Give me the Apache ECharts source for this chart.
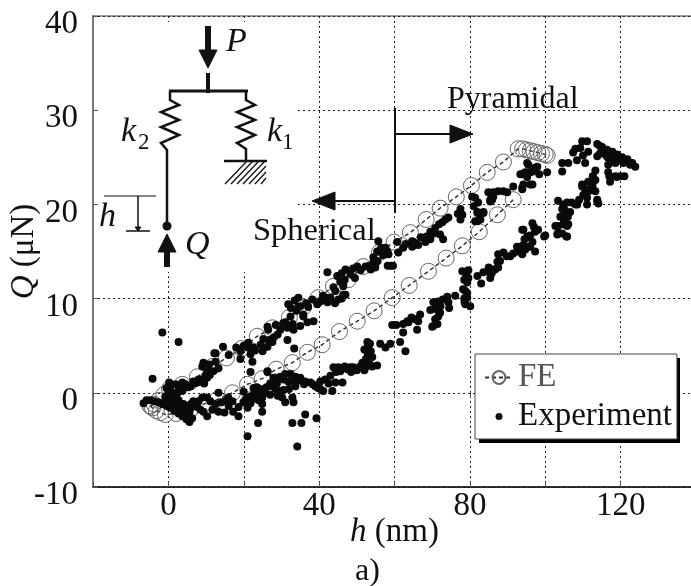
<!DOCTYPE html>
<html>
<head>
<meta charset="utf-8">
<style>html,body{margin:0;padding:0;background:#fff}#c{width:691px;height:586px}</style>
<script src="https://cdn.jsdelivr.net/npm/echarts@6/dist/echarts.min.js"></script>
</head>
<body>
<div id="c"></div>
<script>
const feLoading = [[-4.8,-1.4],[-3.8,-1.2],[-2.6,-0.8],[-1.2,-0.2],[0.3,0.4],[3.7,0.9],[7.7,1.7],[11.7,2.8],[15.4,3.7],[19.4,4.7],[23.6,6],[27.6,6.9],[32.1,8],[35.8,9.1],[39.8,10.1],[43.8,11.3],[47.7,12],[51.7,13.4],[56,14.9],[59.9,16],[64.2,17],[68.4,18.4],[72.1,19.6],[76.4,20.8],[80.4,22],[84.6,23.4],[88.9,24.5],[92.8,25.9],[94,25.9],[95,25.8],[96,25.7],[97,25.6],[98,25.5],[99,25.4],[100,25.3],[100.5,25.2]];
const feUnloading = [[91.5,20.5],[87.3,18.9],[82.5,17.1],[78,15.6],[73.7,14.3],[69,12.9],[63.9,11.4],[59.4,10.1],[54.6,8.7],[50.1,7.6],[45.4,6.5],[40.8,5.1],[36.9,4.3],[32.9,3.2],[28.6,2.5],[24.9,1.5],[21,0.9],[17,0],[13,-0.7],[9.3,-1.2],[5.8,-1.8],[2.1,-2.2],[-0.8,-2.3],[-2.1,-2.1],[-3.2,-1.9],[-4.2,-1.6],[-4.8,-1.4]];
const experiment = [
[-1.6,6.4],[2.7,5.4],[-4.2,1.5],[21,-4.6],[23.8,-3.2],[32.9,-3.2],[35.3,-3.2],[36.3,-2.3],[39.3,-2.7],[34.2,-5.7],
[-6.6,-1.1],[-5.8,-0.8],[-4.8,-0.8],[-3.7,-0.9],[-2.7,-1],[-1.6,-1.2],[-0.5,-1.4],[0.5,-1.6],[1.6,-1.9],[2.7,-2.2],[3.7,-2.5],[4.8,-2.8],[5.6,-3.1],
[-0.8,-0.8],[0.5,-0.9],[1.9,-1.1],[3.2,-1.4],[4.2,-1.9],[5.3,-2.4],[1.1,-0.6],[2.7,-0.8],[4,-1.2],[2.1,-0.3],
[-0.8,-0.4],[1.1,0],[0,0.2],[1.9,0.9],[3.7,1.1],[5.3,0.6],[6.6,1.2],[8,1.4],[9.8,1.8],[9,2.8],[10.3,2.3],[11.9,2.3],[9.3,3.2],[12.2,4.2],[2.4,0],[3.7,0.2],[1.3,-0.5],
[6.6,-0.9],[7.7,-1.5],[9,-0.5],[10.3,-0.5],[9.3,-2],[10.3,-2.5],[11.7,-1.8],[11.1,-0.9],[13.3,0],[13.3,-2],[14.9,-2.1],[15.1,-0.9],[15.9,-0.5],[14.1,-1],[17,-0.9],[17.2,-2],[18.6,-2.5],[18.6,-1.5],[19.9,-1],[21.2,-0.5],[22.5,-0.2],[21.8,-1.1],[24.4,-0.4],[25.2,0],
[24.4,0.4],[25.7,0],[27,-0.2],[28.4,0.4],[29.7,0.2],[30.2,-0.5],[31,-1],[33.2,-1],[32.9,-0.5],[24.9,-0.5],[24.9,-1.2],[24.9,-2],[26.3,2.2],[28.4,1.6],
[30.5,1.4],[31,2],[32.4,2],[33.7,1.7],[35,1.6],[36.3,1.2],[37.7,1.1],[39,0.7],[40.3,0.4],[41.1,0.2],[43.5,0.2],[33.7,0.7],[31.8,1.2],
[40.3,1.2],[41.6,1.4],[43,1.8],[43.8,2.7],[45.1,2.7],[44.3,1.1],[46.2,1.1],[45.6,2.3],[47.5,2.5],[49.1,2.7],[50.9,2.8],[52.3,2.7],[51.5,3.2],[55.4,2.9],[53,3.8],[52.8,4.3],[53,4.9],[52.8,5.4],[54.1,3.8],[56.2,5.2],[57.6,4.8],
[31.6,5.6],[33.4,4.7],[21.8,2.2],[26.3,2.3],[27.9,1.6],[19.1,3.6],[22.3,3.3],[12.5,4.2],
[7.7,1.1],[9,1.4],[10.3,1.6],[19.1,4.4],[21,4.8],[22.5,4.8],[21.2,5.3],[21.8,4.1],[26.3,4.9],[27.6,5.4],[25.2,5.7],[26.5,6.7],[29.7,6.7],[31.6,6.9],[32.4,8.1],[31.8,9.4],[34.5,10.1],[34.5,9.1],[35.8,8.3],[33.2,6.7],[35,7.1],[36.9,7.5],[38.5,7.6],[38.2,9.9],[40.3,9.7],[42.2,10.1],[45.1,9.9],[43.8,11.2],[46.4,11.5],[47,10.4],
[26.3,7],[31,7.5],[35,9.2],[37.1,9.1],[40.8,9.9],[43,10.1],[46.4,10.4],[46.4,11.3],[44.3,10.8],[45.6,11.8],[44.8,12.4],[47,13.1],[48.3,12.6],[50.1,13.4],[52.3,13.4],[42.2,12.8],[54.9,13.6],[55.7,16.1],[55.7,15],[58.1,15],[35.8,8.1],[54.4,14.4],
[55.4,15],[57.6,15.4],[58.4,14.7],[54.4,13.8],[54.9,13.3],[58.2,13.5],[59.6,13.5],[60.7,16],[61,14.9],[62.3,15.4],[64.7,16.1],[64.7,15.5],[66.3,15.7],[68.2,16],[69.5,17.1],[69.5,16.3],[70.8,17.5],[72.7,18.1],[74.3,18.6],[72.1,16.8],[72.9,16.3],[77.5,19.5],[77.5,18.4],[80.6,20.8],[82.2,20.2],[82,19.2],[82,18.2],[83.6,19.2],[84.9,21.3],[85.9,20.5],[87.5,21.4],
[59.4,7.2],[62.3,7.3],[63.4,7.6],[66.8,8.3],[65.5,7.8],[66.3,7.6],[70.3,7.1],[71.6,8.1],[70.3,9.6],[71.6,9.7],[70.8,8.9],[74,10.2],[74.3,9.6],[76.1,10.3],[78.8,9.4],[80.1,9.2],[79.3,10.1],[78.2,11],[79.3,11.7],[79.3,10.6],[78,12.9],[79.6,13],[79.6,12.2],[82,12.4],[83,11.6],[84.9,12.9],[86.7,13.1],[85.4,12.2],[87.3,13.9],[87.5,14.7],
[58.9,5.2],[61.5,5.4],[62.9,4.4],[62.3,6.4],[63.7,7.5],[66,6.7],[70,7],[71.4,7.3],[72.1,8.5],[48.3,2.7],[54.1,2.8],[53,3.9],[53,4.6],
[83.6,12.8],[86.2,13.1],[88.9,14.9],[90.7,14.5],[92.6,15],[93.9,14.7],[94.2,15.7],[96.6,16],[97.3,15],[93.9,17.3],[96.6,18],[98.1,17.3],[95.2,16.6],[100,16.7],
[103.2,16.8],[103.4,17.7],[105.8,17.7],[105.8,16.6],[104,18.7],[105.3,19.2],[106.6,19.2],[103.4,20.4],[104.8,20],[108.5,20],[111.1,20],[113.8,20.3],[114.1,20.1],[111.1,20.7],[110.6,21.6],[109.8,21.9],[112.5,21.9],[112.7,22.9],[111.4,22.4],
[81.4,20.7],[82,19.1],[83.6,19.1],[81.4,18.2],[85.4,20.5],[86.2,21.3],[88.9,21.4],[91.5,21.9],[93.9,21.8],[96,22.1],[93.9,23.2],[96,23.4],[97.9,24],[95.5,24.2],[98.4,23.2],[100.5,23.4],
[104.5,24.4],[104.5,23.5],[106.1,24.4],[107.4,25.5],[109.8,26.7],[111.1,26.7],[109.3,26],[111.4,25.6],[110.6,24.4],[113.8,25.1],
[113.8,26.4],[115.1,26.1],[116.4,25.8],[117.8,25.6],[119.1,25.3],[120.4,25],[121.8,24.8],[123.1,24.4],[123.9,24],[118,25.1],[119.4,24.8],[120.7,24.4],[115.9,25.3],[116.7,24.2],[118.6,24.4],[116.7,23.4],[117.2,22.4],[118.6,23],[121,23],[119.9,23],
[113.3,23.6],[113.3,22.6],[112.5,22.1],[109.8,22.1],[110.1,21],[111.4,21.4],[113.8,20.5],[108,20],[105.8,20.2],[104.5,19.5],
[102.7,17.7],[104.8,17.9],[106.1,17.9],[103.4,17],[105.6,16.6],[99.7,16.6],[94.2,17.3],[95.2,16.5],[97.3,17.1],[93.4,15.5],[96,15.5],
[95.2,24.4],[97.3,23.9],[96.6,23.5],[93.4,23.2],[94.7,23.4],[95.2,22.9],[94.2,22.1],[96.6,22.1],[93.9,21.6],[89.9,21.3],[86.2,20.8],[85.4,20.3],
[-1,-1],[0.2,-1.2],[1.2,-1.3],[2.2,-1.5],[3,-1.9],[4,-2.2],[5,-2.6],[4.6,-1.5],[5.6,-2],[6.3,-2.7],[6,-1.6],
[-0.5,0.5],[0.5,0.6],[0.2,1.1],[2.8,0.5],[4.5,0.9],[6,0.7],[7,1],[8.5,1.2],[9.5,1],[11,1.9],[12.5,3.3],[13.3,2.6],[10.8,3],
[6,-1.2],[8,-0.9],[8.5,-1.8],[12.5,-1.2],[16,-1.4],[20.5,-0.7],[23,-0.6],[23.7,0],[26,0.6],[27.5,0.7],[29,-0.3],[30.6,0.3],[28.8,1],[32,0.4],[33,1.2],[34.5,1.3],[36,0.9],[38.3,0.9],[39.7,0.5],
[24,-0.8],[22.6,0.5],[21,-1.6],[20,0.1],[23.5,0.6],[27,1],[29.7,1.7],
[42.5,1],[44.5,2.2],[46.8,2.8],[48.5,2.2],[50,2.4],[52,2.4],[53.5,3],[52.4,3.6],[53.7,4.4],[53.5,5.2],[52,4.6],
[14.5,4.9],[16,4],[18,4.8],[20,5],[23,4.5],[24.5,5.1],[25,4.4],[26.7,5.6],[28,5.9],[29,6.2],[30.5,7.4],[28.5,7.2],[32.5,9],[33,7.3],[34,8.7],[33.5,9.8],[36.5,9.5],[39.5,9.4],[41,10.3],[42.2,9.6],[44.2,9.5],[46,10],[46.8,12],[46,12.7],[49,13.2],[49.5,12.2],[51,13],[53.5,13.5],[55.5,14],[56.5,15.4],[57,14.6],[59,13.5],[53.7,13.1],
[63,15.8],[65.5,15.9],[67,16.5],[68.5,16.6],[70.5,16.9],[71.8,17.9],[73.5,18.4],[76.8,19],[78,18.9],[81,19.8],[82.8,18.4],
[60.5,7.2],[64.5,8],[69.5,8.8],[70.8,7.8],[72.2,9.2],[72.8,9.9],[74.5,9],[78.5,10],[78.6,9.6],[78.8,10.8],[78.5,12],[79,12.6],[85,13.3],[85.8,12.7],[87.5,13.3],[88,14],[89.8,14.5],[91.5,14.8],[92.5,15.5],[94.7,15.2],[95.3,15.5],[94.5,16.3],[96,16.7],[97,17.6],
[107,20.2],[109,20.5],[106,18.7],[105,18.2],[110.7,21.2],[112,21.5],[113.3,21.4],[112.6,23],[104.5,16.9],[105,19.5],
[114.5,26.2],[116,25.6],[117,25.3],[118.7,25.1],[120,24.7],[121.3,24.7],[122.5,24.2],[116.5,25],[117.5,24.8],[114.5,25.4],[117,23],[119,22.9],[108,25.9],[108.4,24.7],[110,25.2]
];
const xTickLabels = ['0','40','80','120'];
const yTickLabels = ['-10','0','10','20','30','40'];

const serif = '"Liberation Serif"';
const black = '#111';
const seg = (pts, lw, color) => ({type:'polyline', z:10, shape:{points:pts}, style:{stroke:color||black, lineWidth:lw, fill:null}});
const tri = (pts) => ({type:'polygon', z:10, shape:{points:pts}, style:{fill:black, stroke:black, lineWidth:1}});
const txt = (x,y,t,size,italic) => ({type:'text', z:10, x:x, y:y, style:{text:t, fill:black, font:(italic?'italic ':'')+size+'px '+serif, textVerticalAlign:'middle'}});
const hatch = [];
for (const x of [225,231,237,243,249,255,261]) hatch.push(seg([[x,184],[Math.min(x+22,266),161+(x+22>266?(x+22-266):0)]],1.3));

const diagram = [
  {type:'rect', z:1, shape:{x:98,y:22,width:197,height:250}, style:{fill:'#fff'}},
  {type:'rect', z:3, shape:{x:479,y:358,width:201,height:85}, style:{fill:'#000'}},
  seg([[208,26],[208,52]],6), tri([[199,50],[217,50],[208,68]]),
  seg([[208,73],[208,93]],4), seg([[169,91],[248,91]],3),
  seg([[170,91],[170,100],[179,105],[161,112],[179,120],[161,127],[179,135],[161,143],[167,150],[167,226]],2.5),
  seg([[246,91],[246,100],[255,105],[237,112],[255,120],[237,127],[255,135],[237,143],[246,149],[246,161]],2.5),
  seg([[224,161],[267,161]],2.5)
].concat(hatch, [
  {type:'circle', z:10, shape:{cx:167,cy:226,r:4.5}, style:{fill:black}},
  tri([[158,252],[176,252],[167,234]]), seg([[167,250],[167,267]],6),
  seg([[104,196],[156,196]],1.2), seg([[138,196],[138,231]],1.5), seg([[126,231],[150,231]],1.5),
  tri([[135,227],[141,227],[138,231]]),
  txt(226,42,'P',34,true), txt(121,132,'k',34,true), txt(138,143,'2',23,false),
  txt(267,132,'k',34,true), txt(282,143,'1',23,false),
  txt(99,217,'h',34,true), txt(185,245,'Q',34,true),
  seg([[395,108],[395,213]],2), seg([[395,134],[452,134]],2), tri([[450,125],[473,134],[450,143]]),
  seg([[395,201],[333,201]],2), tri([[335,192],[312,201],[335,210]]),
  txt(447,100,'Pyramidal',32,false), txt(253,231,'Spherical',32.5,false)
]);

const option = {
  animation:false,
  backgroundColor:'#fff',
  textStyle:{fontFamily:serif},
  title:{text:'a)', left:355, top:556, padding:0, textStyle:{fontFamily:serif, fontSize:32, fontWeight:'normal', color:black}},
  grid:{left:93, top:16, width:603, height:471, show:true, borderColor:'#777', borderWidth:1.5, backgroundColor:'transparent', outerBoundsMode:'none', containLabel:false},
  legend:{
    left:475, top:354, orient:'vertical', selectedMode:false,
    backgroundColor:'#fff', borderColor:'#444', borderWidth:1,
    padding:[7,5,6,9], itemGap:6, itemWidth:28, itemHeight:16,
    textStyle:{fontFamily:serif, fontSize:33},
    data:[{name:'FE', textStyle:{color:'#555'}},
      {name:'Experiment', textStyle:{color:black}, icon:'path://M0 0L0 0M28 16L28 16M17.5 8A3.5 3.5 0 1 1 10.5 8A3.5 3.5 0 1 1 17.5 8Z'}]
  },
  xAxis:[{
    type:'value', min:-20, max:140, interval:20, position:'bottom',
    name:'{i|h} (nm)', nameLocation:'middle', nameGap:29, nameMoveOverlap:false,
    nameTextStyle:{fontFamily:serif, fontSize:33, color:black, rich:{i:{fontFamily:serif, fontStyle:'italic', fontSize:33, color:black}}},
    axisLine:{show:true, onZero:false, lineStyle:{color:black, width:1.5}},
    axisTick:{show:true, inside:true, length:5, lineStyle:{color:'#555'}},
    axisLabel:{margin:3, fontFamily:serif, fontSize:33, color:black, hideOverlap:false, showMinLabel:true, showMaxLabel:true,
      formatter:v => xTickLabels.includes(String(v)) ? String(v) : ''},
    splitLine:{show:true, lineStyle:{type:[2,3], color:'#222', width:1}}
  },{
    type:'value', min:-20, max:140, interval:20, position:'top',
    axisLine:{show:false}, axisTick:{show:true, inside:true, length:5, lineStyle:{color:'#555'}},
    axisLabel:{show:false}, splitLine:{show:false}
  }],
  yAxis:{
    type:'value', min:-10, max:40, interval:10,
    name:'{i|Q} (\u03bcN)', nameLocation:'middle', nameGap:52, nameRotate:90, nameMoveOverlap:false,
    nameTextStyle:{fontFamily:serif, fontSize:33, color:black, rich:{i:{fontFamily:serif, fontStyle:'italic', fontSize:33, color:black}}},
    axisLine:{show:true, onZero:false, lineStyle:{color:'#777', width:2}},
    axisTick:{show:true, inside:true, length:5, lineStyle:{color:'#555'}},
    axisLabel:{margin:15, verticalAlign:'top', lineHeight:17, fontFamily:serif, fontSize:33, color:black, formatter:v => yTickLabels.includes(String(v)) ? String(v) : ''},
    splitLine:{show:true, lineStyle:{type:[2,3], color:'#222', width:1}}
  },
  graphic:{elements:diagram},
  series:[
    {name:'FE', type:'line', data:feLoading, z:2, symbol:'circle', symbolSize:16, showAllSymbol:true, silent:true,
      lineStyle:{type:[4,3], color:'#333', width:1.5}, itemStyle:{color:'rgba(0,0,0,0)', borderColor:'#666', borderWidth:1}},
    {name:'FE', type:'line', data:feUnloading, z:2, symbol:'circle', symbolSize:16, showAllSymbol:true, silent:true,
      lineStyle:{type:[4,3], color:'#333', width:1.5}, itemStyle:{color:'rgba(0,0,0,0)', borderColor:'#666', borderWidth:1}},
    {name:'Experiment', type:'scatter', data:experiment, z:3, symbol:'circle', symbolSize:8, silent:true, itemStyle:{color:'#0a0a0a', opacity:1}}
  ]
};
const chart = echarts.init(document.getElementById('c'), null, {renderer:'canvas'});
chart.setOption(option);
</script>
</body>
</html>
